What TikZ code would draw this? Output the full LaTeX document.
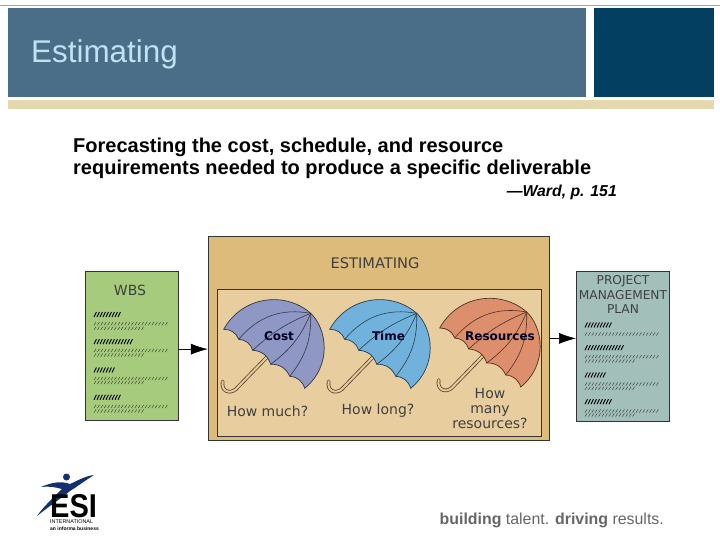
\documentclass[tikz,border=0pt]{standalone}
\usepackage{fontspec}
\setmainfont{Liberation Sans}
\newfontfamily\diagramfont{DejaVu Sans}
\usetikzlibrary{arrows.meta}

\definecolor{bannerblue}{HTML}{4A6E88}
\definecolor{bannerdark}{HTML}{023F60}
\definecolor{bannertan}{HTML}{E4D8AE}
\definecolor{titleblue}{HTML}{C0E2F2}
\definecolor{wbsgreen}{HTML}{A6CB7C}
\definecolor{plangrey}{HTML}{A2BFBA}
\definecolor{outertan}{HTML}{DCBB7B}
\definecolor{innertan}{HTML}{E8CD9E}
\definecolor{costblue}{HTML}{8F97C4}
\definecolor{timeblue}{HTML}{70B2DC}
\definecolor{resred}{HTML}{DD8E6C}
\definecolor{logonavy}{HTML}{13306F}
\definecolor{handlebrown}{HTML}{5F4029}

\newcommand{\heavyrow}[3]{\foreach \i in {0,3,...,#3} \draw[line width=.9pt] ({#1+\i},{#2+2.5}) -- ({#1+\i+2.4},{#2-2.5});}
\newcommand{\lightrow}[3]{\foreach \i in {0,3.4,...,#3} \draw[line width=.4pt, black!80] ({#1+\i},{#2+1.6}) -- ({#1+\i+2},{#2-1.6});}
\newcommand{\umbrella}[3]{
  \begin{scope}[shift={(#1,#2)}]
    \draw[handlebrown, line width=3.6pt, line cap=round] (-42,42) -- (-75,76) .. controls (-81,81) and (-90,78) .. (-88,68);
    \draw[outertan!75!white, line width=2pt, line cap=round] (-42,42) -- (-75,76) .. controls (-81,81) and (-90,78) .. (-88,68);
    \draw[fill=#3, draw=black!65!#3, line width=.7pt] (-87,16) .. controls (-68,-18) and (-25,-22) .. (0,0)
      .. controls (16,15) and (22,52) .. (-6,75) to[bend right=35] (-21,63) to[bend right=35] (-40,51)
      to[bend right=35] (-58,37) to[bend right=35] (-72,26) to[bend right=35] cycle;
    \draw[black!65!#3, line width=.6pt] (0,0) to[bend right=30] (-72,26);
    \draw[black!65!#3, line width=.6pt] (0,0) to[bend right=10] (-58,37);
    \draw[black!65!#3, line width=.6pt] (0,0) to[bend left=15] (-40,51);
    \draw[black!65!#3, line width=.6pt] (0,0) to[bend left=20] (-21,63);
  \end{scope}
}

\tikzset{
  diagramlabel/.style={font=\diagramfont\fontsize{14}{15}\selectfont, text=black!75, align=center, inner sep=0pt},
  umbrellalabel/.style={font=\diagramfont\bfseries\fontsize{12}{13}\selectfont, text=black!85!blue, inner sep=0pt},
  docbox/.style={draw=black!80, line width=.8pt, anchor=north west, inner sep=0pt},
  flowarrow/.style={-{Latex[length=17pt,width=11pt]}, line width=.6pt, black}
}

\begin{document}
\begin{tikzpicture}[x=1pt, y=-1pt]
    \useasboundingbox (0,0) rectangle (720,540);
    \fill[black!35] (0,5) rectangle (720,6.5);
    \fill[bannerblue] (8,8) rectangle (586,97);
    \fill[bannerdark] (594,8) rectangle (714,97);
    \fill[bannertan] (8,100) rectangle (714,109);

    \node[anchor=base west, inner sep=0pt, text=titleblue, font=\fontsize{31.4}{35}\selectfont] (title) at (31,63) {Estimating};
    \node[anchor=base west, inner sep=0pt, font=\bfseries\fontsize{20}{22}\selectfont] (lineone) at (73,153) {Forecasting the cost, schedule, and resource};
    \node[anchor=base west, inner sep=0pt, font=\bfseries\fontsize{20}{22}\selectfont] (linetwo) at (73,175) {requirements needed to produce a specific deliverable};
    \node[anchor=base east, inner sep=0pt, font=\bfseries\itshape\fontsize{15.8}{18}\selectfont] (ward) at (617,196.5) {---Ward, p. 151};

    \node[docbox, fill=outertan, minimum width=341pt, minimum height=204pt] (estimating) at (207.8,235.5) {};
    \node[docbox, fill=innertan, minimum width=323.5pt, minimum height=146.5pt] (inner) at (217,289) {};
    \node[docbox, fill=wbsgreen, minimum width=93pt, minimum height=149.5pt] (wbs) at (84.5,270.5) {};
    \node[docbox, fill=plangrey, minimum width=92.5pt, minimum height=150pt] (plan) at (576,270.5) {};

    \draw[flowarrow] ([yshift=-3.5pt]wbs.east) -- ([yshift=-3.5pt]wbs.east -| estimating.west);
    \draw[flowarrow] ([yshift=-.5pt]estimating.east) -- ([yshift=-.5pt]estimating.east -| plan.west);

    \umbrella{310.7}{313.3}{costblue}
    \umbrella{416.7}{313.3}{timeblue}
    \umbrella{526.7}{312}{resred}

    \node[diagramlabel, font=\diagramfont\fontsize{14.6}{15}\selectfont] (esttitle) at (375,263.5) {ESTIMATING};
    \node[diagramlabel] (wbstitle) at (130,290.5) {WBS};
    \node[diagramlabel, font=\diagramfont\fontsize{12.2}{14.5}\selectfont] (plantitle) at (623,294.5) {PROJECT\\MANAGEMENT\\PLAN};
    \node[umbrellalabel] (cost) at (279,336) {Cost};
    \node[umbrellalabel] (time) at (388.5,336) {Time};
    \node[umbrellalabel] (resources) at (500,336) {Resources};
    \node[diagramlabel] (howmuch) at (267.5,411) {How much?};
    \node[diagramlabel] (howlong) at (378,411) {How long?};
    \node[diagramlabel] (howmany) at (490,408) {How\\many\\resources?};

    \heavyrow{94}{314.5}{25}
    \lightrow{94}{323.7}{74}
    \lightrow{94}{328.3}{49}
    \heavyrow{94}{341.7}{36}
    \lightrow{94}{350.5}{74}
    \lightrow{94}{355}{49}
    \heavyrow{94}{370}{19}
    \lightrow{94}{378.5}{74}
    \lightrow{94}{382.5}{49}
    \heavyrow{94}{397.3}{25}
    \lightrow{94}{406.5}{74}
    \lightrow{94}{411}{49}

    \heavyrow{585}{325}{25}
    \lightrow{585}{334}{74}
    \heavyrow{585}{347.7}{36}
    \lightrow{585}{356.7}{74}
    \lightrow{585}{361}{49}
    \heavyrow{585}{375}{19}
    \lightrow{585}{384}{74}
    \lightrow{585}{388.3}{49}
    \heavyrow{585}{401.7}{25}
    \lightrow{585}{411}{74}
    \lightrow{585}{415}{49}

    \fill[logonavy] (41,487) .. controls (52,482) and (62,481) .. (70,484) .. controls (77,481) and (85,476) .. (94,475)
      .. controls (86,480) and (78,486) .. (70,491) .. controls (63,497) and (48,507) .. (37,516)
      .. controls (44,506) and (54,497) .. (62,489) .. controls (55,487) and (48,486) .. (41,487) -- cycle;
    \fill[logonavy] (66.5,477) circle (3.5);
    \node[anchor=base west, inner sep=0pt, xscale=.88, font=\bfseries\fontsize{33}{33}\selectfont] (esi) at (50,517) {ESI};
    \node[anchor=base west, inner sep=0pt, font=\fontsize{5.4}{6}\selectfont] (intl) at (50,523) {INTERNATIONAL};
    \node[anchor=base west, inner sep=0pt, font=\bfseries\fontsize{5}{6}\selectfont] (informa) at (50,530) {an informa business};
    \node[anchor=base east, inner sep=0pt, text=black!60, font=\fontsize{15.9}{18}\selectfont] (footer) at (664,524) {\textbf{building} talent. \textbf{driving} results.};
\end{tikzpicture}
\end{document}
